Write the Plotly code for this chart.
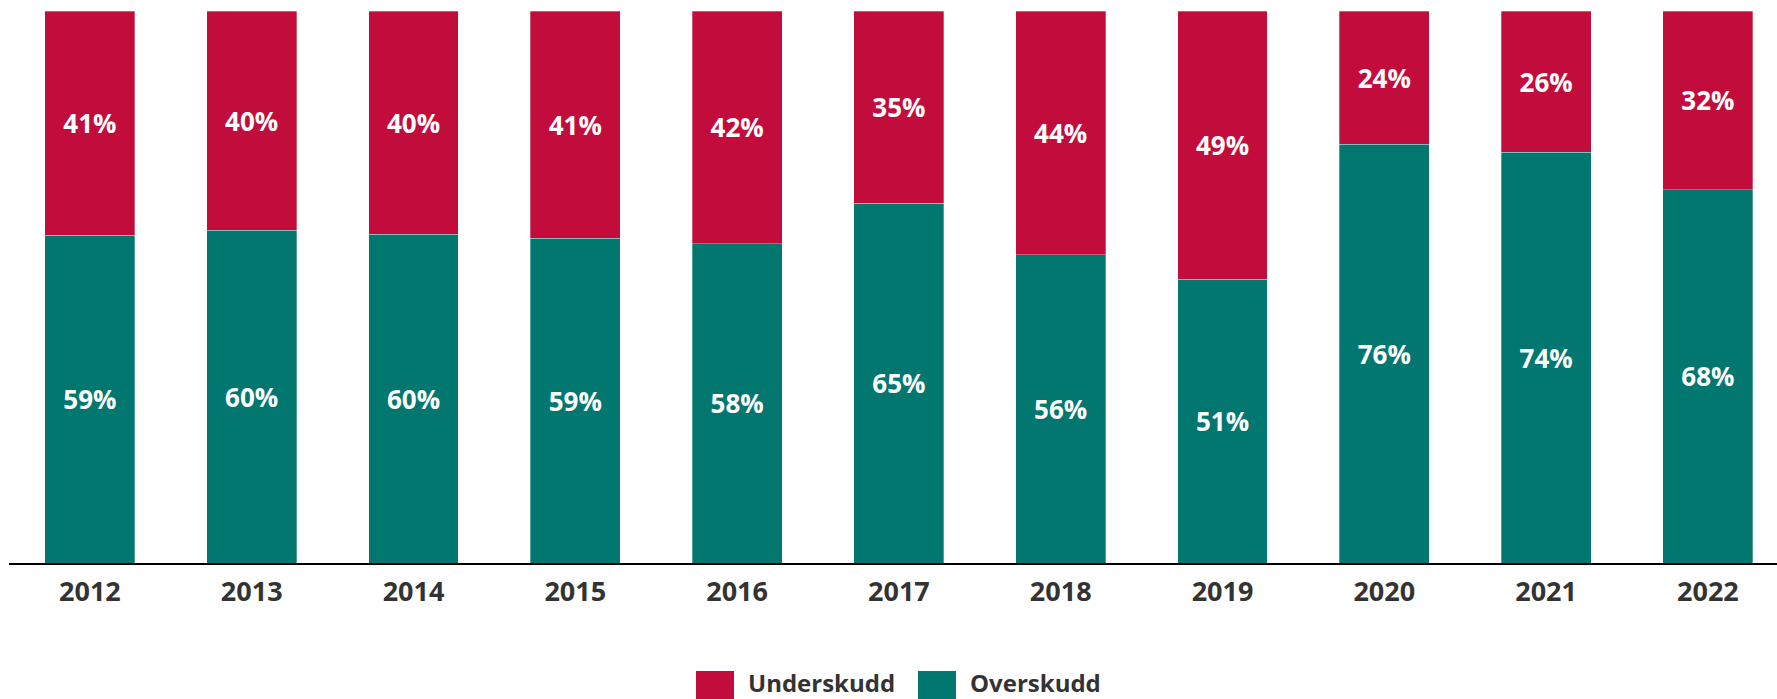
import plotly.graph_objects as go

years = ["2012", "2013", "2014", "2015", "2016", "2017", "2018", "2019", "2020", "2021", "2022"]
# shares in percent (labels show rounded values)
overskudd = [59.4, 60.3, 59.6, 58.8, 57.8, 65.2, 55.8, 51.4, 75.9, 74.4, 67.6]
underskudd = [40.6, 39.7, 40.4, 41.2, 42.2, 34.8, 44.2, 48.6, 24.1, 25.6, 32.4]

RED = "#C20D3C"
GREEN = "#027770"
TXT = "#333333"
FONT = "Open Sans"

W, H = 1777, 699
ML, MR, MT, MB = 9, 0, 11, 136
PW, PH = W - ML - MR, H - MT - MB

fig = go.Figure()
for name, vals, col in [("Overskudd", overskudd, GREEN), ("Underskudd", underskudd, RED)]:
    fig.add_trace(go.Bar(
        x=years, y=[v / 100 for v in vals], name=name,
        marker=dict(color=col, line=dict(color="rgba(255,255,255,0.5)", width=0.6)),
        text=[f"{round(v)}%" for v in vals], textposition="inside",
        insidetextanchor="middle",
        textfont=dict(color="white", size=26, family=FONT, weight="bold"),
        showlegend=False, hoverinfo="x+name+text",
    ))

def px_x(p):
    return (p - ML) / PW

def px_y(p):
    return (H - MB - p) / PH

# custom legend (large swatches like the reference)
legend_items = [("Underskudd", RED, 696), ("Overskudd", GREEN, 918)]
for name, col, x0 in legend_items:
    fig.add_shape(type="rect", xref="paper", yref="paper",
                  x0=px_x(x0), x1=px_x(x0 + 38), y0=px_y(699), y1=px_y(671),
                  fillcolor=col, line=dict(width=0))
    fig.add_annotation(xref="paper", yref="paper", x=px_x(x0 + 50), y=px_y(682),
                       xanchor="left", yanchor="middle", text=name, showarrow=False,
                       font=dict(size=24, color=TXT, family=FONT, weight="bold"))

fig.update_layout(
    width=W, height=H,
    margin=dict(l=ML, r=MR, t=MT, b=MB, pad=0),
    barmode="stack", bargap=0.444,
    plot_bgcolor="white", paper_bgcolor="white",
    font=dict(family=FONT, color=TXT),
    uniformtext=dict(mode=False),
    xaxis=dict(
        range=[-0.5, -0.5 + PW / 161.8], showgrid=False, zeroline=False,
        showline=True, linecolor="#000000", linewidth=2,
        ticks="", ticklabelstandoff=4,
        tickfont=dict(size=27, color=TXT, family=FONT, weight="bold"),
        fixedrange=True,
    ),
    yaxis=dict(range=[0, 1], visible=False, fixedrange=True),
)

fig.write_html("out.html", config={"displayModeBar": False},
               post_script="document.body.style.margin='0';")
